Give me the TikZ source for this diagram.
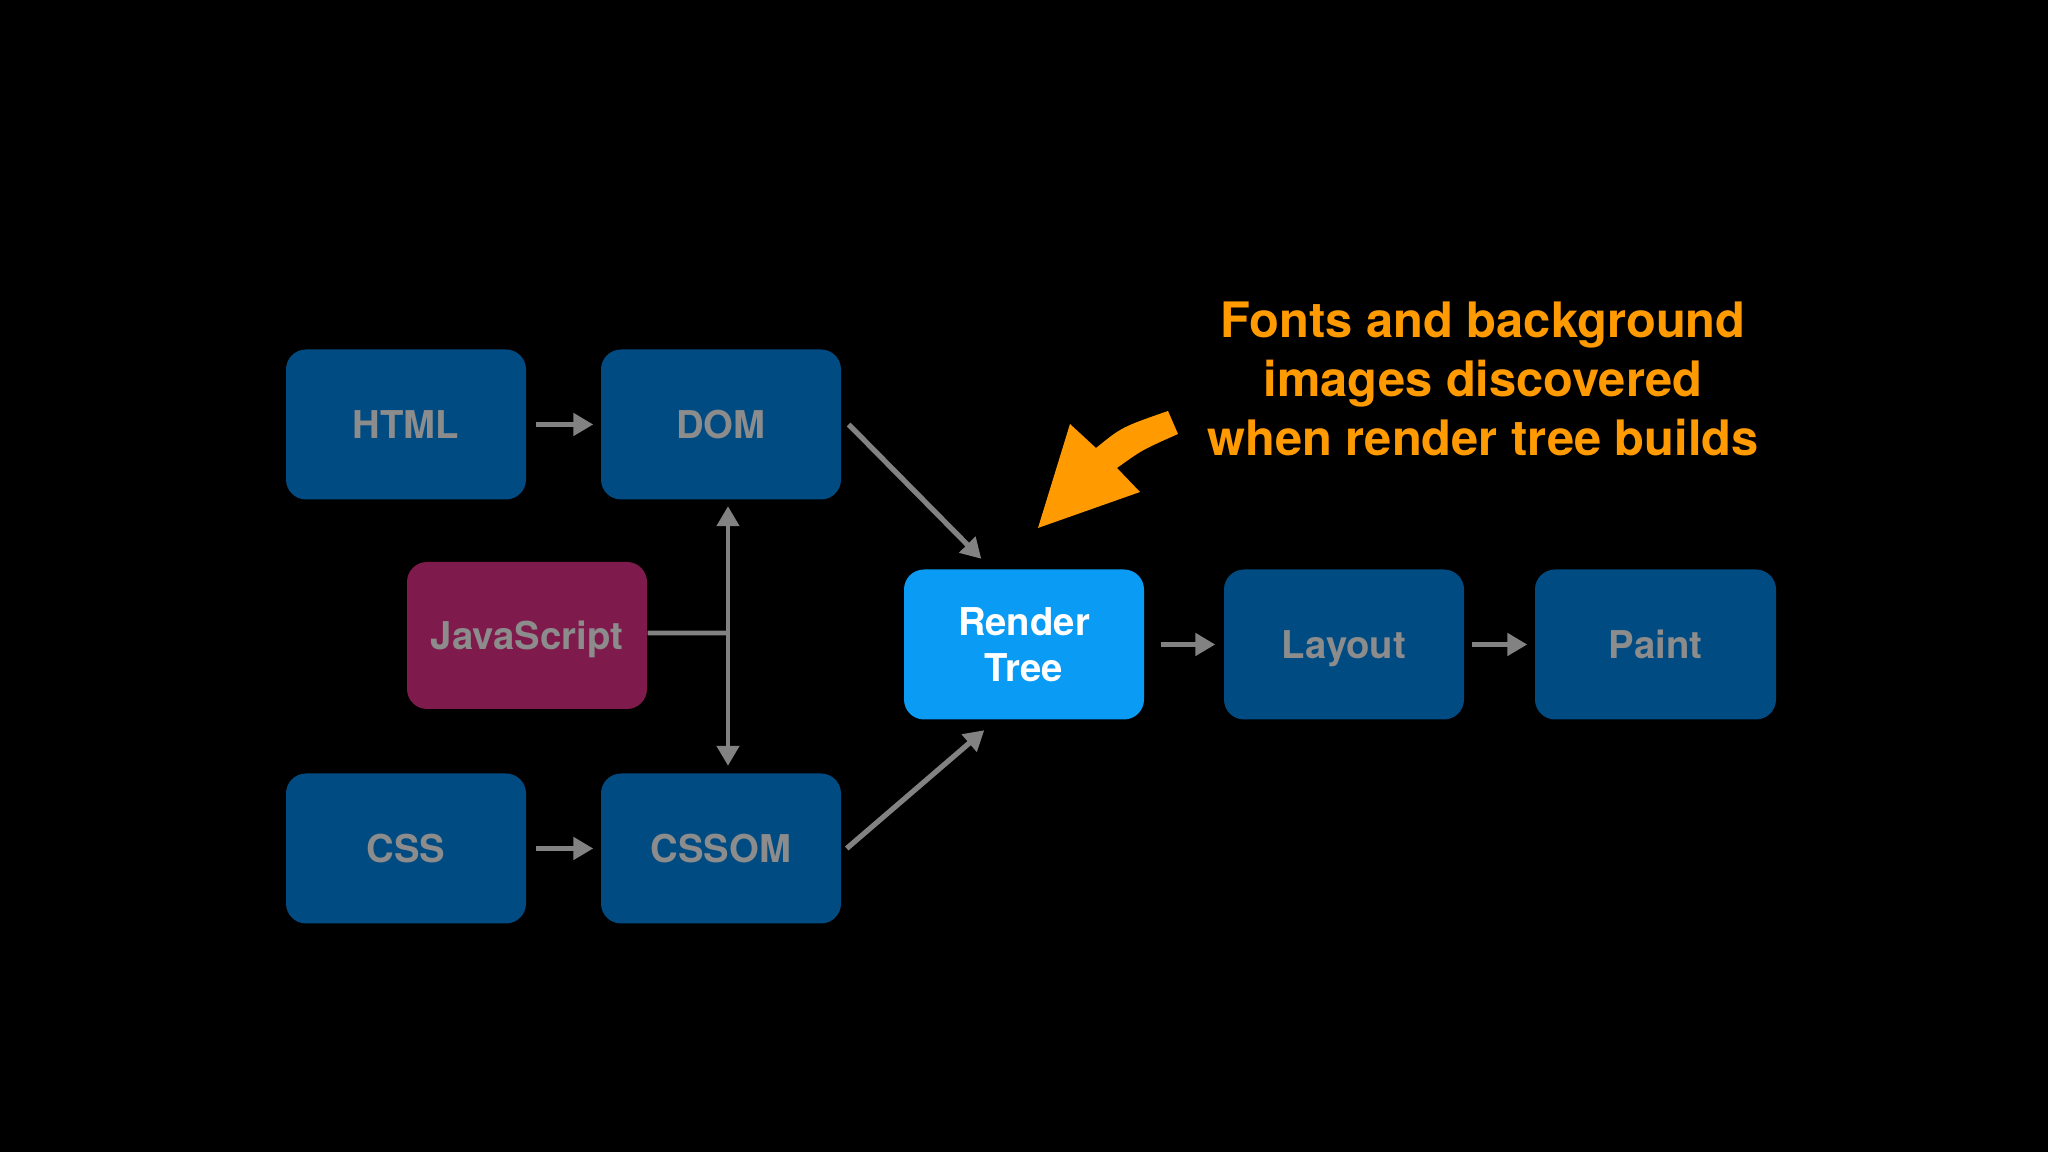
\documentclass[tikz,border=0pt]{standalone}
\usepackage{fontspec}
\setmainfont{TeX Gyre Heros}
\usetikzlibrary{arrows.meta}

\definecolor{boxblue}{HTML}{004B82}
\definecolor{labelgray}{HTML}{8C8C8C}
\definecolor{jsplum}{HTML}{7F1A4C}
\definecolor{renderblue}{HTML}{0A9BF5}
\definecolor{notice}{HTML}{FF9A00}
\definecolor{linkgray}{HTML}{828282}

\tikzset{
	stage/.style={fill=boxblue, rounded corners=0.2cm, minimum width=2.4cm,
			minimum height=1.5cm, text=labelgray, align=center,
			text height=0.275cm, text depth=0cm,
			font=\fontsize{10.9}{13.5}\selectfont\bfseries},
	link/.style={draw=linkgray, line width=1.5pt,
			-{Triangle[length=0.2cm,width=0.22cm]}},
}

\begin{document}
\begin{tikzpicture}
	% Background
	\fill[black] (0,0) rectangle (20.48,11.52);

	% Stages
	\node[stage] (html) at (4.06,7.275) {HTML};
	\node[stage] (dom) at (7.21,7.275) {DOM};
	\node[stage, fill=jsplum, minimum height=1.47cm] (js) at (5.27,5.165) {JavaScript};
	\node[stage] (css) at (4.06,3.035) {CSS};
	\node[stage] (cssom) at (7.21,3.035) {CSSOM};
	\node[stage, fill=renderblue, text=white, text height=, text depth=] (render) at (10.24,5.075) {Render\\[-0.5pt]Tree};
	\node[stage] (layout) at (13.44,5.075) {Layout};
	\node[stage, minimum width=2.41cm] (paint) at (16.555,5.075) {Paint};

	% Connectors
	\draw[link] ([xshift=0.09cm]html.east) -- ([xshift=-0.07cm]dom.west);
	\draw[link] ([xshift=0.09cm]css.east) -- ([xshift=-0.07cm]cssom.west);
	\draw[link] ([xshift=0.07cm]dom.east) -- ([shift={(0.78,0.1)}]render.north west);
	\draw[link] ([xshift=0.05cm]cssom.east) -- ([shift={(0.81,-0.1)}]render.south west);
	\draw[link] ([xshift=0.16cm]render.east) -- ([xshift=-0.08cm]layout.west);
	\draw[link] ([xshift=0.07cm]layout.east) -- ([xshift=-0.07cm]paint.west);

	% JavaScript touches both trees
	\coordinate (jct) at (7.28,5.19);
	\draw[draw=linkgray, line width=1.3pt] ([yshift=0.025cm]js.east) -- (jct);
	\draw[link, {Triangle[length=0.2cm,width=0.22cm]}-{Triangle[length=0.2cm,width=0.22cm]}, line width=1.3pt]
		([yshift=-0.06cm]dom.south -| jct) -- ([yshift=0.07cm]cssom.north -| jct);

	% Callout
	\node[text=notice, align=center, font=\fontsize{13.9}{16.8}\selectfont\bfseries]
		(note) at (14.83,7.73) {Fonts and background\\images discovered\\when render tree builds};
	\fill[notice] (10.38,6.24) -- (10.70,7.28) -- (10.96,7.04)
		.. controls (11.22,7.25) .. (11.68,7.41) -- (11.78,7.18)
		.. controls (11.42,7.02) .. (11.17,6.84) -- (11.40,6.60) -- cycle;
\end{tikzpicture}
\end{document}
